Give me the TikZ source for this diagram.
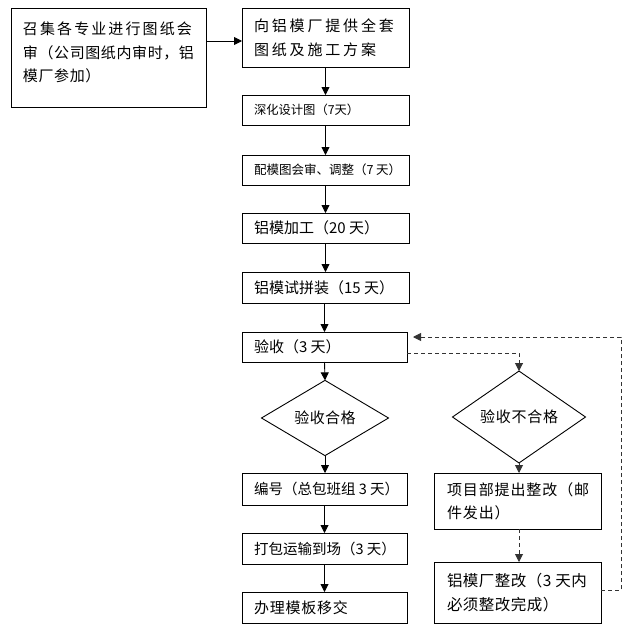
\documentclass[tikz,border=0pt]{standalone}
\usepackage{fontspec}
\newfontfamily\cjk{Noto Sans CJK SC}
\newfontfamily\cjkA[LetterSpace=14]{Noto Sans CJK SC}
\newfontfamily\cjkB[LetterSpace=19]{Noto Sans CJK SC}
\newfontfamily\cjkC[LetterSpace=5]{Noto Sans CJK SC}
\newfontfamily\cjkD[LetterSpace=3]{Noto Sans CJK SC}
\newfontfamily\cjkE[LetterSpace=6]{Noto Sans CJK SC}
\newfontfamily\cjkF[LetterSpace=4]{Noto Sans CJK SC}
\usetikzlibrary{arrows.meta,shapes.geometric}
\newcommand\myfz[3]{#1\fontsize{#2}{#3}\selectfont}
\newcommand\oneline[2]{\makebox[#1][l]{#2}}
\newcommand\twolines[3]{\parbox{#1}{\mbox{#2}\\\mbox{#3}}}
\begin{document}
\begin{tikzpicture}[x=1pt,y=-1pt,
  box/.style={draw=black, line width=0.9pt, rectangle, anchor=north west, outer sep=0pt,
    inner xsep=12pt, inner ysep=0pt},
  dia/.style={draw=black, line width=0.9pt, diamond, inner sep=0pt, outer sep=0pt},
  arr/.style={draw=black, line width=0.9pt, -{Triangle[length=8pt,width=8pt]}},
  darr/.style={draw=black!80, line width=0.9pt, dash pattern=on 4pt off 3pt, -{Triangle[length=8pt,width=8pt]}}
]
\useasboundingbox (0,0) rectangle (634,632);
\fill[white] (0,0) rectangle (634,632);

\node[box, inner ysep=6pt] (a) at (11,8)
  {\parbox[c][87pt][t]{171pt}{\fontsize{15}{23.5}\selectfont\vspace*{8pt}%
   \mbox{\cjkA 召集各专业进行图纸会}\\\mbox{\cjkF 审（公司图纸内审时，铝}\\\mbox{\cjkF 模厂参加）}}};
\node[box, minimum height=59] (b) at (242,8)
  {\myfz{\cjkB}{15}{24}\twolines{143pt}{向铝模厂提供全套}{图纸及施工方案}};
\node[box, minimum height=30] (c) at (242,95)
  {\myfz{\cjk}{12.3}{15}\oneline{143pt}{深化设计图（7天）}};
\node[box, minimum height=30] (d) at (242,155)
  {\myfz{\cjk}{12.5}{15}\oneline{143pt}{配模图会审、调整（7 天）}};
\node[box, minimum height=30] (e) at (242,213)
  {\myfz{\cjk}{15}{18}\oneline{143pt}{铝模加工（20 天）}};
\node[box, minimum height=31] (f) at (242,272)
  {\myfz{\cjk}{15}{18}\oneline{143pt}{铝模试拼装（15 天）}};
\node[box, minimum height=30] (g) at (242,332)
  {\myfz{\cjk}{15}{18}\oneline{141pt}{验收（3 天）}};
\node[dia, minimum width=127, minimum height=55] (h) at (325,418)
  {\myfz{\cjkD}{15}{18}验收合格};
\node[dia, minimum width=133, minimum height=55] (i) at (519,417)
  {\myfz{\cjkC}{15}{18}验收不合格};
\node[box, minimum height=32] (j) at (242,473)
  {\myfz{\cjk}{14.5}{18}\oneline{141pt}{编号（总包班组 3 天）}};
\node[box, minimum height=31] (k) at (242,533)
  {\myfz{\cjk}{14.5}{18}\oneline{141pt}{打包运输到场（3 天）}};
\node[box, minimum height=31] (l) at (242,592)
  {\myfz{\cjkC}{15}{18}\oneline{141pt}{办理模板移交}};
\node[box, inner xsep=13pt, minimum height=56] (m) at (434,473)
  {\myfz{\cjkE}{15}{23}\twolines{141pt}{项目部提出整改（邮}{件发出）}};
\node[box, inner xsep=13pt, minimum height=61] (n) at (434,562)
  {\myfz{\cjkD}{15.5}{24}\twolines{141pt}{铝模厂整改（3 天内}{必须整改完成）}};

\coordinate (ab) at ([yshift=-3.5pt]b.west);
\draw[arr] (a.east |- ab) -- (ab);
\draw[arr] (b.south) -- (c.north);
\draw[arr] (c.south) -- (d.north);
\draw[arr] (d.south) -- (e.north);
\draw[arr] (e.south) -- (f.north);
\draw[arr] (f.south -| g.north) -- (g.north);
\draw[arr] (g.south) -- (h.north);
\draw[arr] (h.south) -- (j.north -| h.south);
\draw[arr] (j.south) -- (k.north);
\draw[arr] (k.south) -- (l.north);

\coordinate (gout) at ([yshift=-6pt]g.east);
\coordinate (gin) at ([yshift=10pt]g.east);
\coordinate (nout) at ([yshift=2.5pt]n.east);
\coordinate (rc) at (621,0);
\draw[darr] (gout) -| (i.north);
\draw[darr] (i.south) -- (i.south |- m.north);
\draw[darr] (i.south |- m.south) -- (i.south |- n.north);
\draw[darr, shorten >=6pt] (nout) -| (rc |- gin) -- (gin);
\end{tikzpicture}
\end{document}
